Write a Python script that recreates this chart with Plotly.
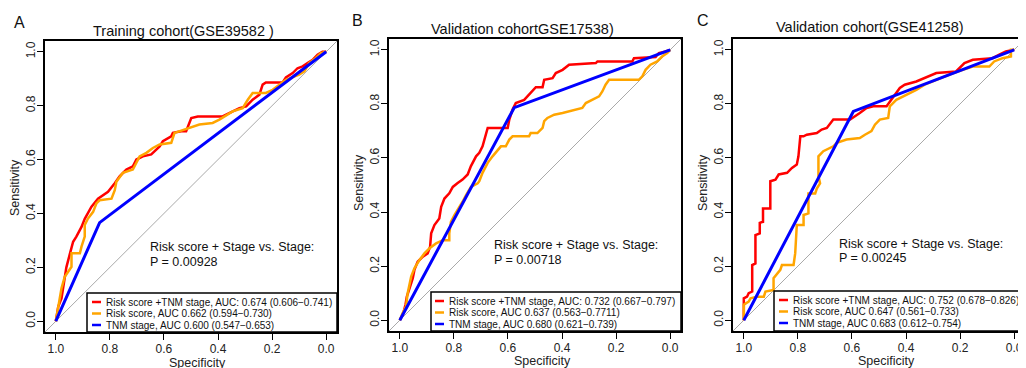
import plotly.graph_objects as go

# ---------------- data ----------------
# Panel A: Training cohort (GSE39582)
a_red_spec = [1.0, 0.991, 0.979, 0.967, 0.961, 0.948, 0.936, 0.924, 0.905, 0.893, 0.881, 0.868, 0.844, 0.825, 0.807, 0.782,
              0.764, 0.739, 0.715, 0.702, 0.678, 0.647, 0.616, 0.604, 0.592, 0.573, 0.567, 0.536, 0.518, 0.499, 0.475,
              0.383, 0.370, 0.346, 0.321, 0.296, 0.272, 0.247, 0.235, 0.223, 0.161, 0.149, 0.124, 0.106, 0.087, 0.069,
              0.050, 0.032, 0.014, 0.0]
a_red_sens = [0.0, 0.054, 0.085, 0.153, 0.200, 0.250, 0.295, 0.314, 0.350, 0.380, 0.400, 0.425, 0.455, 0.468, 0.480, 0.512,
              0.538, 0.563, 0.575, 0.600, 0.612, 0.619, 0.649, 0.668, 0.674, 0.686, 0.699, 0.705, 0.705, 0.754, 0.760,
              0.760, 0.767, 0.779, 0.791, 0.797, 0.822, 0.841, 0.878, 0.886, 0.886, 0.905, 0.921, 0.939, 0.946, 0.958,
              0.970, 0.989, 1.0, 1.0]
a_org_spec = [1.0, 0.995, 0.985, 0.979, 0.967, 0.955, 0.942, 0.942, 0.911, 0.905, 0.893, 0.893, 0.881, 0.862, 0.850, 0.838,
              0.794, 0.782, 0.776, 0.752, 0.715, 0.702, 0.690, 0.665, 0.641, 0.616, 0.573, 0.561, 0.542, 0.506, 0.469,
              0.420, 0.395, 0.346, 0.309, 0.290, 0.272, 0.223, 0.198, 0.149, 0.100, 0.081, 0.063, 0.038, 0.020, 0.0]
a_org_sens = [0.0, 0.030, 0.091, 0.122, 0.165, 0.184, 0.202, 0.252, 0.252, 0.277, 0.314, 0.357, 0.381, 0.406, 0.437, 0.449,
              0.455, 0.486, 0.518, 0.551, 0.563, 0.588, 0.612, 0.625, 0.643, 0.656, 0.662, 0.699, 0.705, 0.717, 0.730,
              0.736, 0.748, 0.779, 0.791, 0.822, 0.847, 0.847, 0.859, 0.896, 0.915, 0.927, 0.958, 0.977, 0.995, 1.0]
a_blu_spec = [1.0, 0.838, 0.0]
a_blu_sens = [0.0, 0.366, 1.0]

# Panel B: Validation cohort (GSE17538)
b_red_spec = [1.0, 0.989, 0.979, 0.974, 0.964, 0.952, 0.946, 0.934, 0.915, 0.897, 0.888, 0.884, 0.872, 0.854, 0.847, 0.835,
              0.817, 0.804, 0.786, 0.768, 0.749, 0.737, 0.718, 0.706, 0.694, 0.688, 0.681, 0.675, 0.601, 0.595, 0.583,
              0.571, 0.540, 0.528, 0.509, 0.497, 0.472, 0.466, 0.435, 0.423, 0.398, 0.374, 0.275, 0.269, 0.140, 0.134,
              0.054, 0.042, 0.017, 0.0]
b_red_sens = [0.0, 0.020, 0.057, 0.087, 0.118, 0.155, 0.186, 0.216, 0.235, 0.247, 0.272, 0.321, 0.352, 0.376, 0.419, 0.450,
              0.469, 0.493, 0.507, 0.520, 0.539, 0.570, 0.606, 0.619, 0.643, 0.668, 0.692, 0.711, 0.711, 0.742, 0.779,
              0.803, 0.815, 0.828, 0.846, 0.862, 0.862, 0.889, 0.895, 0.914, 0.926, 0.945, 0.951, 0.957, 0.957, 0.969,
              0.973, 0.988, 0.994, 1.0]
b_org_spec = [1.0, 0.990, 0.977, 0.971, 0.958, 0.946, 0.927, 0.909, 0.890, 0.866, 0.841, 0.817, 0.817, 0.811, 0.798, 0.786,
              0.768, 0.755, 0.737, 0.712, 0.706, 0.694, 0.675, 0.657, 0.638, 0.626, 0.608, 0.595, 0.583, 0.522, 0.516,
              0.491, 0.472, 0.466, 0.454, 0.429, 0.398, 0.349, 0.325, 0.312, 0.288, 0.263, 0.251, 0.239, 0.226, 0.116,
              0.103, 0.091, 0.073, 0.048, 0.030, 0.011, 0.0]
b_org_sens = [0.0, 0.026, 0.050, 0.100, 0.161, 0.192, 0.223, 0.247, 0.266, 0.284, 0.296, 0.296, 0.321, 0.364, 0.389, 0.407,
              0.438, 0.463, 0.493, 0.506, 0.514, 0.545, 0.582, 0.606, 0.631, 0.643, 0.643, 0.668, 0.680, 0.680, 0.692,
              0.692, 0.711, 0.736, 0.748, 0.760, 0.766, 0.779, 0.785, 0.803, 0.815, 0.828, 0.846, 0.871, 0.889, 0.889,
              0.902, 0.926, 0.945, 0.957, 0.975, 0.988, 1.0]
b_blu_spec = [1.0, 0.577, 0.0]
b_blu_sens = [0.0, 0.786, 1.0]

# Panel C: Validation cohort (GSE41258)
c_red_spec = [1.0, 1.0, 0.988, 0.982, 0.969, 0.969, 0.957, 0.957, 0.941, 0.941, 0.929, 0.929, 0.902, 0.902, 0.883, 0.871,
              0.840, 0.822, 0.804, 0.798, 0.791, 0.779, 0.767, 0.730, 0.712, 0.693, 0.669, 0.607, 0.571, 0.546, 0.521,
              0.472, 0.423, 0.405, 0.362, 0.313, 0.288, 0.215, 0.184, 0.153, 0.080, 0.055, 0.031, 0.0]
c_red_sens = [0.0, 0.081, 0.087, 0.100, 0.106, 0.204, 0.210, 0.315, 0.321, 0.360, 0.364, 0.413, 0.413, 0.514, 0.520, 0.539,
              0.545, 0.563, 0.576, 0.606, 0.680, 0.680, 0.686, 0.692, 0.705, 0.711, 0.742, 0.742, 0.766, 0.785, 0.791,
              0.791, 0.859, 0.871, 0.883, 0.902, 0.914, 0.920, 0.951, 0.963, 0.969, 0.982, 0.994, 1.0]
c_org_spec = [1.0, 1.0, 0.982, 0.975, 0.951, 0.926, 0.920, 0.890, 0.890, 0.877, 0.865, 0.859, 0.816, 0.810, 0.804, 0.779,
              0.779, 0.761, 0.761, 0.736, 0.730, 0.718, 0.724, 0.724, 0.706, 0.669, 0.656, 0.620, 0.571, 0.552, 0.528,
              0.515, 0.497, 0.466, 0.460, 0.436, 0.399, 0.362, 0.331, 0.288, 0.239, 0.190, 0.153, 0.092, 0.074, 0.043,
              0.012, 0.012, 0.0]
c_org_sens = [0.0, 0.057, 0.069, 0.081, 0.087, 0.087, 0.106, 0.112, 0.155, 0.173, 0.186, 0.204, 0.204, 0.247, 0.352, 0.352,
              0.389, 0.395, 0.469, 0.469, 0.487, 0.506, 0.533, 0.606, 0.625, 0.643, 0.656, 0.668, 0.674, 0.686, 0.699,
              0.723, 0.742, 0.748, 0.791, 0.815, 0.834, 0.852, 0.871, 0.889, 0.908, 0.926, 0.938, 0.938, 0.957, 0.969,
              0.975, 1.0, 1.0]
c_blu_spec = [1.0, 0.595, 0.0]
c_blu_sens = [0.0, 0.772, 1.0]

panel_letters = ["A", "B", "C"]
panel_titles = ["Training cohort(GSE39582 )", "Validation cohortGSE17538)", "Validation cohort(GSE41258)"]
legend_labels = [
    ["Risk score +TNM stage, AUC: 0.674 (0.606\u22120.741)", "Risk score, AUC 0.662 (0.594\u22120.730)", "TNM stage, AUC 0.600 (0.547\u22120.653)"],
    ["Risk score +TNM stage, AUC: 0.732 (0.667\u22120.797)", "Risk score, AUC 0.637 (0.563\u22120.7711)", "TNM stage, AUC 0.680 (0.621\u22120.739)"],
    ["Risk score +TNM stage, AUC: 0.752 (0.678\u22120.826)", "Risk score, AUC 0.647 (0.561\u22120.733)", "TNM stage, AUC 0.683 (0.612\u22120.754)"],
]
p_values = ["0.00928", "0.00718", "0.00245"]
tick_vals = [0.0, 0.2, 0.4, 0.6, 0.8, 1.0]
tick_text = ["0.0", "0.2", "0.4", "0.6", "0.8", "1.0"]

# ---------------- layout geometry (pixels in the target picture) ----------------
W, H = 1026, 368
OFF = 8  # the page body margin shifts the figure by this many pixels
FONT = "Liberation Sans, Arial, sans-serif"
COLORS = ["#FF0000", "#FFA500", "#0000FF"]
WIDTHS = [2.5, 2.5, 3]
XR = [1.04, -0.04]
YR = [-0.04, 1.04]

panels = [
    dict(box=(45, 41, 337, 332), letter=(19, 22), title=(183, 31), xlab=(197, 363), ylab=(15, 188),
         ann=(148, 247, 262), leg=(87, 293), legtext=104),
    dict(box=(389, 39, 681, 331), letter=(357, 21), title=(522, 29), xlab=(542, 361), ylab=(359, 183),
         ann=(492, 245, 260), leg=(431, 292), legtext=447),
    dict(box=(733, 39, 1025, 331), letter=(703, 20), title=(870, 27), xlab=(886, 361), ylab=(703, 183),
         ann=(837, 244, 258), leg=(774, 291), legtext=791),
]

series = [
    [(a_red_spec, a_red_sens), (a_org_spec, a_org_sens), (a_blu_spec, a_blu_sens)],
    [(b_red_spec, b_red_sens), (b_org_spec, b_org_sens), (b_blu_spec, b_blu_sens)],
    [(c_red_spec, c_red_sens), (c_org_spec, c_org_sens), (c_blu_spec, c_blu_sens)],
]


def px(x):
    return (x - OFF) / W


def py(y):
    return 1 - (y - OFF) / H


fig = go.Figure()
annotations = []
shapes = []
layout_axes = {}

for i, p in enumerate(panels):
    sfx = "" if i == 0 else str(i + 1)
    xa, ya = "x" + sfx, "y" + sfx
    x0, y0, x1, y1 = p["box"]

    # diagonal reference line
    fig.add_trace(go.Scatter(x=XR, y=[1 - v for v in XR], mode="lines",
                             line=dict(color="#A9A9A9", width=1), xaxis=xa, yaxis=ya,
                             showlegend=False, hoverinfo="skip"))
    for (sx, sy), col, w in zip(series[i], COLORS, WIDTHS):
        fig.add_trace(go.Scatter(x=sx, y=sy, mode="lines", line=dict(color=col, width=w),
                                 xaxis=xa, yaxis=ya, showlegend=False))

    common = dict(showgrid=False, zeroline=False, showline=True, mirror=True, linecolor="black",
                  linewidth=1.5, ticks="outside", ticklen=6, tickwidth=1, tickcolor="black",
                  tickvals=tick_vals, ticktext=tick_text,
                  tickfont=dict(family=FONT, size=12, color="#222"))
    layout_axes["xaxis" + sfx] = dict(common, domain=[px(x0), px(x1)], range=XR, anchor=ya,
                                      ticklabelstandoff=-1)
    layout_axes["yaxis" + sfx] = dict(common, domain=[py(y1), py(y0)], range=YR, anchor=xa, tickangle=-90,
                                      ticklabelstandoff=-3)

    # text
    annotations.append(dict(text=panel_letters[i], x=px(p["letter"][0]), y=py(p["letter"][1]), xref="paper",
                            yref="paper", showarrow=False, font=dict(family=FONT, size=16, color="#111"),
                            xanchor="center", yanchor="middle"))
    annotations.append(dict(text=panel_titles[i], x=px(p["title"][0]), y=py(p["title"][1]), xref="paper",
                            yref="paper", showarrow=False, font=dict(family=FONT, size=14.5, color="#111"),
                            xanchor="center", yanchor="middle"))
    annotations.append(dict(text="Specificity", x=px(p["xlab"][0]), y=py(p["xlab"][1]), xref="paper",
                            yref="paper", showarrow=False, font=dict(family=FONT, size=12.5, color="#222"),
                            xanchor="center", yanchor="middle"))
    annotations.append(dict(text="Sensitivity", x=px(p["ylab"][0]), y=py(p["ylab"][1]), xref="paper",
                            yref="paper", showarrow=False, textangle=-90,
                            font=dict(family=FONT, size=12.5, color="#222"), xanchor="center", yanchor="middle"))
    ax, ay1, ay2 = p["ann"]
    annotations.append(dict(text="Risk score + Stage vs. Stage:", x=px(ax), y=py(ay1), xref="paper",
                            yref="paper", showarrow=False, font=dict(family=FONT, size=12.5, color="#111"),
                            xanchor="left", yanchor="middle"))
    annotations.append(dict(text="P = " + p_values[i], x=px(ax), y=py(ay2), xref="paper",
                            yref="paper", showarrow=False, font=dict(family=FONT, size=12.5, color="#111"),
                            xanchor="left", yanchor="middle"))

    # manual legend box
    lx, ly = p["leg"]
    tx = p["legtext"]
    shapes.append(dict(type="rect", xref="paper", yref="paper", x0=px(lx), x1=px(x1), y0=py(y1), y1=py(ly),
                       line=dict(color="black", width=1.5), fillcolor="white", layer="above"))
    for k in range(3):
        ry = ly + 9 + k * 11.5
        shapes.append(dict(type="line", xref="paper", yref="paper", x0=px(tx - 12), x1=px(tx - 3),
                           y0=py(ry), y1=py(ry), line=dict(color=COLORS[k], width=2.5), layer="above"))
        annotations.append(dict(text=legend_labels[i][k], x=px(tx), y=py(ry), xref="paper", yref="paper",
                                showarrow=False, font=dict(family=FONT, size=10, color="#111"),
                                xanchor="left", yanchor="middle"))

fig.update_layout(width=W, height=H, margin=dict(l=0, r=0, t=0, b=0), plot_bgcolor="white",
                  paper_bgcolor="white", showlegend=False, annotations=annotations, shapes=shapes,
                  **layout_axes)

fig.write_html("out.html")
